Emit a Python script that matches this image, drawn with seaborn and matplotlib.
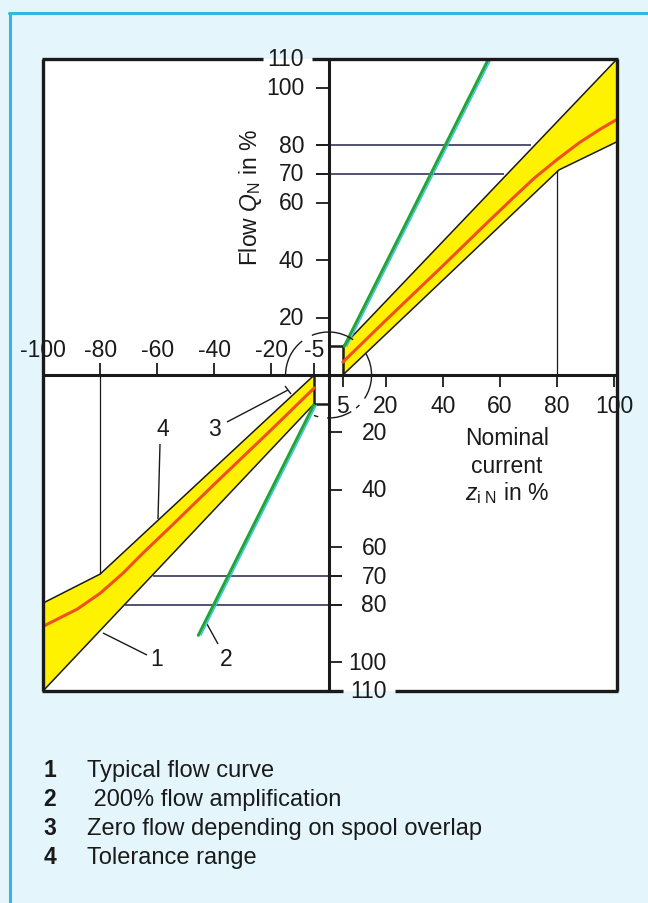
import matplotlib
matplotlib.use("Agg")
import matplotlib.pyplot as plt
from matplotlib.patches import Arc
from matplotlib.lines import Line2D
import seaborn as sns
import numpy as np

# ---------------- data ----------------
x_ticks_neg = [-100, -80, -60, -40, -20, -5]
x_ticks_pos = [5, 20, 40, 60, 80, 100]
y_ticks_upper = [20, 40, 60, 70, 80, 100]
y_ticks_lower = [20, 40, 60, 70, 80, 100]
y_tick_max = 110

# 1: typical flow curve
curve_pos_x = [5, 20, 40, 55, 65, 72, 80, 88, 95, 101]
curve_pos_y = [4.5, 19, 38, 52.5, 62, 68.5, 75, 81, 85.5, 89]
curve_neg_x = [-5, -20, -40, -55, -65, -72, -80, -88, -95, -100]
curve_neg_y = [-4.5, -19, -38, -52.5, -62, -69, -76, -81.5, -85, -87.5]

# 4: tolerance range
tol_pos_upper_x = [5, 101]
tol_pos_upper_y = [10, 110]
tol_pos_lower_x = [5, 80.7, 101]
tol_pos_lower_y = [0, 71.4, 81.2]
tol_neg_upper_x = [-5, -80, -100]
tol_neg_upper_y = [0, -69.3, -79.4]
tol_neg_lower_x = [-5, -100]
tol_neg_lower_y = [-10, -110]

# 2: 200 % flow amplification
amp_pos_x = [5.5, 56]
amp_pos_y = [10, 110]
amp_neg_x = [-5.2, -45.6]
amp_neg_y = [-10.5, -90.6]

# reference readings
ref_levels = [70, 80]
ref_upper_end_x = [61.4, 70.9]
ref_lower_start_x = [-61.4, -71.2]
ref_current = [80, -80]
ref_current_flow = [71.4, -69.3]

legend_nums = ["1", "2", "3", "4"]
legend_texts = ["Typical flow curve", " 200% flow amplification",
                "Zero flow depending on spool overlap", "Tolerance range"]

# ---------------- style ----------------
BG = "#e4f6fb"
BLUE = "#3ab4e4"
YEL = "#fff200"
RED = "#f0501e"
GREEN = "#23a33a"
CYAN = "#30c4e8"
NAVY = "#23234e"
INK = "#1a1a1a"

sns.set_theme(style="white")
plt.rcParams["font.family"] = ["Liberation Sans", "DejaVu Sans"]
plt.rcParams["mathtext.fontset"] = "custom"
plt.rcParams["mathtext.rm"] = "Liberation Sans"
plt.rcParams["mathtext.it"] = "Liberation Sans:italic"
plt.rcParams["mathtext.sf"] = "Liberation Sans"

W, H = 648, 904
fig = plt.figure(figsize=(W / 100, H / 100), dpi=100, facecolor=BG)
L, R, T, B = 43, 617, 60, 692
ax = fig.add_axes([L / W, 1 - B / H, (R - L) / W, (B - T) / H])
XL, XR, YB, YT = -100, 101, -110, 110
ax.set_xlim(XL, XR)
ax.set_ylim(YB, YT)
ax.set_facecolor("white")
for s in ax.spines.values():
    s.set_visible(False)
ax.set_xticks([])
ax.set_yticks([])
ax.grid(False)

sx = (XR - XL) / (R - L)
sy = (YT - YB) / (B - T)


def px(x, y):
    return (x - L) * sx + XL, YT - (y - T) * sy


def seg(xs, ys, color=INK, lw=1.0, z=3):
    ax.plot(xs, ys, color=color, lw=lw, solid_capstyle="butt", zorder=z, clip_on=False)


FS = 16.5

# tolerance bands
ax.fill(np.r_[tol_pos_upper_x, tol_pos_lower_x[::-1]], np.r_[tol_pos_upper_y, tol_pos_lower_y[::-1]],
        color=YEL, lw=0, zorder=1)
ax.fill(np.r_[tol_neg_upper_x, tol_neg_lower_x[::-1]], np.r_[tol_neg_upper_y, tol_neg_lower_y[::-1]],
        color=YEL, lw=0, zorder=1)
for xs, ys in [(tol_pos_upper_x, tol_pos_upper_y), (tol_pos_lower_x, tol_pos_lower_y),
               (tol_neg_upper_x, tol_neg_upper_y), (tol_neg_lower_x, tol_neg_lower_y)]:
    sns.lineplot(x=xs, y=ys, ax=ax, sort=False, estimator=None, color=INK, lw=1.1, zorder=3)
# overlap steps (zero flow region)
seg([0, tol_pos_upper_x[0], tol_pos_lower_x[0]], [tol_pos_upper_y[0], tol_pos_upper_y[0], tol_pos_lower_y[0]], lw=1.8)
seg([0, tol_neg_lower_x[0], tol_neg_upper_x[0]], [tol_neg_lower_y[0], tol_neg_lower_y[0], tol_neg_upper_y[0]], lw=1.8)

# typical flow curve
sns.lineplot(x=curve_pos_x, y=curve_pos_y, ax=ax, sort=False, estimator=None, color=RED, lw=2.2, zorder=4)
sns.lineplot(x=curve_neg_x, y=curve_neg_y, ax=ax, sort=False, estimator=None, color=RED, lw=2.2, zorder=4)

# 200% amplification (green with cyan edge)
for xs, ys in [(amp_pos_x, amp_pos_y), (amp_neg_x, amp_neg_y)]:
    sns.lineplot(x=np.array(xs) + 0.9, y=ys, ax=ax, sort=False, estimator=None, color=CYAN, lw=1.0, zorder=4)
    sns.lineplot(x=xs, y=ys, ax=ax, sort=False, estimator=None, color=GREEN, lw=2.2, zorder=5)

# reference lines
tick_len_x = 13 * sx
tick_len_y = 12 * sy
for lvl, xe in zip(ref_levels, ref_upper_end_x):
    seg([-tick_len_x, xe], [lvl, lvl], color=NAVY, lw=1.1)
for lvl, xs_ in zip(ref_levels, ref_lower_start_x):
    seg([xs_, tick_len_x], [-lvl, -lvl], color=NAVY, lw=1.1)
for xc, yc in zip(ref_current, ref_current_flow):
    seg([xc, xc], [0, yc], color=INK, lw=0.9)

# main axes lines
seg([XL, XR], [0, 0], lw=2.2, z=6)
seg([0, 0], [YB, YT], lw=2.2, z=6)

# box with gaps for 110 labels
top_gap = (px(263, 0)[0], px(312, 0)[0])
bot_gap = (px(343, 0)[0], px(395, 0)[0])
seg([XL, XL], [YB, YT], lw=2.4, z=6)
seg([XR, XR], [YB, YT], lw=2.4, z=6)
seg([XL - 0.4, top_gap[0]], [YT, YT], lw=2.4, z=6)
seg([top_gap[1], XR + 0.4], [YT, YT], lw=2.4, z=6)
seg([XL - 0.4, bot_gap[0]], [YB, YB], lw=2.4, z=6)
seg([bot_gap[1], XR + 0.4], [YB, YB], lw=2.4, z=6)

# x ticks and labels
y_lab_up = px(0, 351)[1]
y_lab_dn = px(0, 407)[1]
for v in x_ticks_neg:
    seg([v, v], [0, tick_len_y], lw=1.3)
    ax.text(v, y_lab_up, f"-{abs(v)}", ha="center", va="center", fontsize=FS, color=INK, zorder=7)
for v in x_ticks_pos:
    seg([v, v], [0, -tick_len_y], lw=1.3)
    ax.text(v, y_lab_dn, f"{v}", ha="center", va="center", fontsize=FS, color=INK, zorder=7)

# y ticks and labels
x_lab_up = px(304, 0)[0]
x_lab_dn = px(387, 0)[0]
for v in y_ticks_upper:
    seg([-tick_len_x, 0], [v, v], lw=1.3)
    ax.text(x_lab_up, v, f"{v}", ha="right", va="center", fontsize=FS, color=INK, zorder=7)
for v in y_ticks_lower:
    seg([0, tick_len_x], [-v, -v], lw=1.3)
    ax.text(x_lab_dn, -v, f"{v}", ha="right", va="center", fontsize=FS, color=INK, zorder=7)
ax.text(x_lab_up, y_tick_max, f"{y_tick_max}", ha="right", va="center", fontsize=FS, color=INK, zorder=7,
        clip_on=False)
ax.text(x_lab_dn, -y_tick_max, f"{y_tick_max}", ha="right", va="center", fontsize=FS, color=INK, zorder=7,
        clip_on=False)

# broken circle around the origin
rx, ry = 43 * sx, 43 * sy
for a1, a2 in [(55, 113), (128, 180), (-33, 30), (-50, -44), (-92, -58), (-110, -104)]:
    ax.add_patch(Arc((0, 0), 2 * rx, 2 * ry, theta1=a1, theta2=a2, color=INK, lw=1.0, zorder=6))

# callouts
callouts = [("4", (163, 430), (160, 445), (158, 520)),
            ("3", (214, 430), (227, 423), (288, 391)),
            ("1", (157, 660), (147, 656), (103, 634)),
            ("2", (226, 660), (218, 645), (207, 625))]
for lab, pos, p0, p1 in callouts:
    x, y = px(*pos)
    ax.text(x, y, lab, ha="center", va="center", fontsize=FS, color=INK, zorder=7)
    a, b = px(*p0)
    c, d = px(*p1)
    seg([a, c], [b, d], lw=1.0)
# small end mark on callout 3
a, b = px(285, 387)
c, d = px(291, 395)
seg([a, c], [b, d], lw=1.0)

# axis titles
x, y = px(251, 198)
ax.text(x, y, r"Flow $Q_{\mathrm{N}}$ in %", rotation=90, ha="center", va="center", fontsize=FS, color=INK)
for txt, yy in [("Nominal", 445), ("current", 473), (r"$z_{\mathrm{i\ N}}$ in %", 500)]:
    x, y = px(507, yy)
    ax.text(x, y, txt, ha="center", va="baseline", fontsize=FS, color=INK)

# legend below the chart
for i, (n, t) in enumerate(zip(legend_nums, legend_texts)):
    yb = 777 + i * 29
    fig.text(50 / W, 1 - yb / H, n, ha="center", va="baseline", fontsize=16.5, fontweight="bold", color=INK)
    fig.text(87 / W, 1 - yb / H, t, ha="left", va="baseline", fontsize=17, color=INK)

# panel border
fig.add_artist(Line2D([8.5 / W, 1], [1 - 14 / H, 1 - 14 / H], color=BLUE, lw=2.2))
fig.add_artist(Line2D([9.5 / W, 9.5 / W], [0, 1 - 14 / H], color=BLUE, lw=2.2))

fig.savefig("out.png", dpi=100, facecolor=BG)
